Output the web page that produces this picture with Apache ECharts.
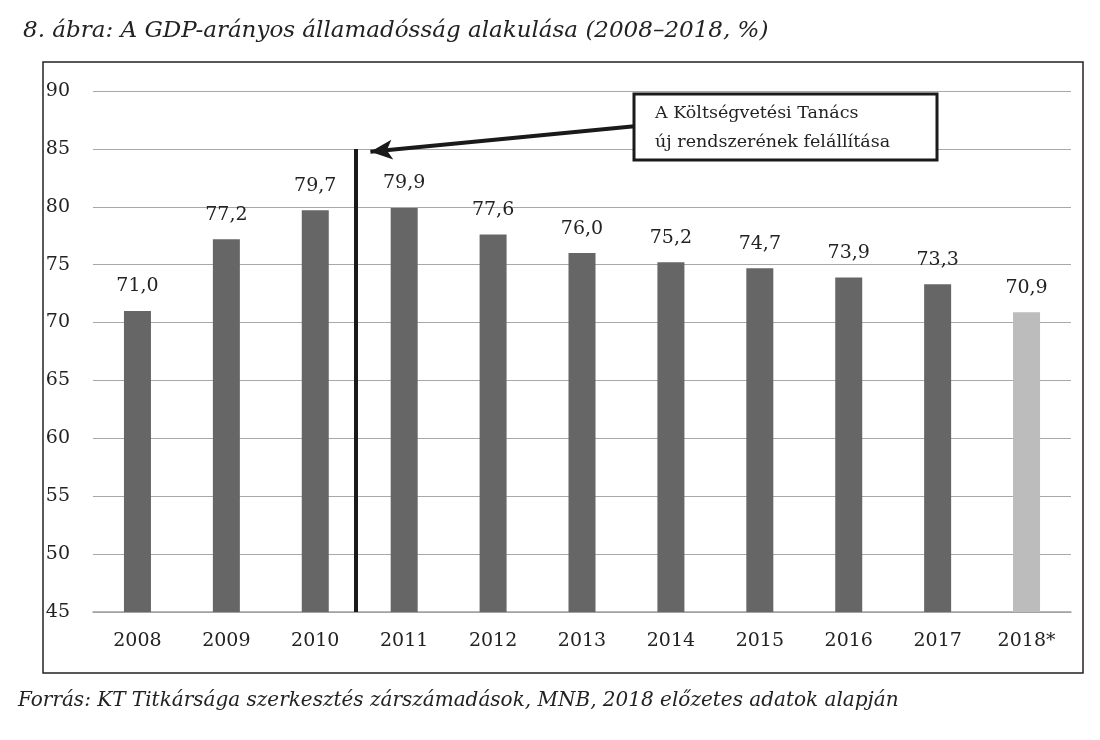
<!DOCTYPE html>
<html>
<head>
<meta charset="utf-8">
<script src="https://cdn.jsdelivr.net/npm/echarts@6/dist/echarts.min.js"></script>
<style>
  html, body { margin: 0; padding: 0; background: #fff; }
  #chart { width: 1100px; height: 740px; }
</style>
</head>
<body>
<div id="chart"></div>
<script>
var myChart = echarts.init(document.getElementById('chart'));

var years = ['2008', '2009', '2010', '2011', '2012', '2013', '2014', '2015', '2016', '2017', '2018*'];
var debt = [71.0, 77.2, 79.7, 79.9, 77.6, 76.0, 75.2, 74.7, 73.9, 73.3, 70.9];
var estimated = [false, false, false, false, false, false, false, false, false, false, true];
var yTicks = [45, 50, 55, 60, 65, 70, 75, 80, 85, 90];

// vertical marker (between 2010 and 2011) and arrow, in category units
var markerX = 2.96;
var markerTop = 85;
var arrowFrom = [6.09, 86.95];
var arrowTo = [3.12, 84.75];

var serif = '"DejaVu Serif", "Liberation Serif", serif';

var barData = debt.map(function (v, i) {
    return {
        value: v,
        itemStyle: { color: estimated[i] ? '#bcbcbc' : '#666666' }
    };
});

option = {
    animation: false,
    textStyle: { fontFamily: serif },
    title: {
        text: '8. ábra: A GDP-arányos államadósság alakulása (2008–2018, %)',
        left: 18,
        top: 15,
        textStyle: { fontFamily: serif, fontStyle: 'italic', fontWeight: 'normal', fontSize: 23, color: '#222' }
    },
    grid: { left: 93, right: 29, top: 91, bottom: 128 },
    xAxis: [{
        type: 'category',
        data: years,
        axisLine: { lineStyle: { color: '#a0a0a0', width: 1.5 } },
        axisTick: { show: false },
        axisLabel: { fontFamily: serif, fontSize: 19, color: '#222', margin: 20 }
    }, {
        type: 'value',
        min: 0,
        max: years.length,
        show: false
    }],
    yAxis: {
        type: 'value',
        min: yTicks[0],
        max: yTicks[yTicks.length - 1],
        interval: 5,
        axisLine: { show: false },
        axisTick: { show: false },
        splitLine: { lineStyle: { color: '#a8a8a8', width: 1 } },
        axisLabel: { fontFamily: serif, fontSize: 19, color: '#222', margin: 23 }
    },
    series: [
        {
            type: 'bar',
            data: barData,
            barWidth: 27,
            label: {
                show: true,
                position: 'top',
                distance: 15,
                fontFamily: serif,
                fontSize: 19,
                color: '#222',
                formatter: function (p) { return p.value.toFixed(1).replace('.', ','); }
            }
        },
        {
            type: 'line',
            xAxisIndex: 1,
            data: [],
            markLine: {
                silent: true,
                animation: false,
                label: { show: false },
                data: [
                    [
                        { coord: [markerX, markerTop], symbol: 'none' },
                        { coord: [markerX, yTicks[0]], symbol: 'none' }
                    ]
                ],
                lineStyle: { color: '#1a1a1a', width: 4, type: 'solid' }
            }
        },
        {
            type: 'line',
            xAxisIndex: 1,
            data: [],
            markLine: {
                silent: true,
                animation: false,
                label: { show: false },
                symbolSize: [15, 22],
                data: [
                    [
                        { coord: arrowFrom, symbol: 'none' },
                        { coord: arrowTo, symbol: 'arrow' }
                    ]
                ],
                lineStyle: { color: '#1a1a1a', width: 4, type: 'solid' },
                itemStyle: { color: '#1a1a1a' }
            }
        }
    ],
    graphic: [
        {
            type: 'rect',
            shape: { x: 43, y: 62, width: 1040, height: 611 },
            style: { fill: 'none', stroke: '#222', lineWidth: 1.5 },
            z: -1
        },
        {
            type: 'rect',
            shape: { x: 634, y: 94, width: 303, height: 66 },
            style: { fill: '#fff', stroke: '#1a1a1a', lineWidth: 3 },
            z: 100
        },
        {
            type: 'text',
            left: 655,
            top: 99,
            z: 101,
            style: {
                text: 'A Költségvetési Tanács\núj rendszerének felállítása',
                font: '17.5px ' + serif,
                fill: '#222',
                lineHeight: 29
            }
        },
        {
            type: 'text',
            left: 18,
            top: 691,
            style: {
                text: 'Forrás: KT Titkársága szerkesztés zárszámadások, MNB, 2018 előzetes adatok alapján',
                font: 'italic 20px ' + serif,
                fill: '#222'
            }
        }
    ]
};
myChart.setOption(option);
</script>
</body>
</html>
